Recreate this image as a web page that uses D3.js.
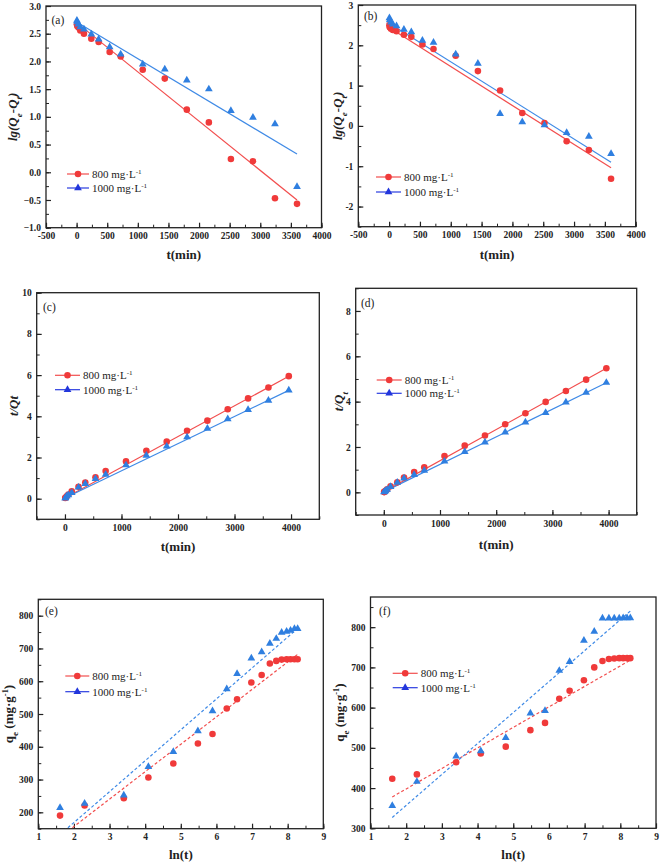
<!DOCTYPE html>
<html><head><meta charset="utf-8">
<script src="https://cdn.jsdelivr.net/npm/d3@7"></script>
<style>body{margin:0;background:#fff}svg{display:block}</style>
</head><body>
<svg id="chart" width="661" height="864"></svg>
<script>
// ---------- data ----------
const timesAB = [5,10,30,60,120,240,360,540,720,1080,1440,1800,2160,2520,2880,3240,3600];
const timesCD = [5,10,30,60,120,240,360,540,720,1080,1440,1800,2160,2520,2880,3240,3600,3960];
const lnT = [1.61,2.30,3.40,4.09,4.79,5.48,5.89,6.29,6.58,6.98,7.27,7.50,7.68,7.83,7.97,8.08,8.19,8.28];

const seriesNames = ["800 mg·L", "1000 mg·L"];

// (a) pseudo-first-order
const aRed  = [2.67,2.64,2.61,2.56,2.50,2.41,2.35,2.17,2.09,1.85,1.69,1.13,0.90,0.24,0.20,-0.47,-0.57];
const aBlue = [2.74,2.71,2.67,2.62,2.58,2.49,2.40,2.26,2.13,1.95,1.86,1.66,1.50,1.11,0.99,0.87,-0.26];
const aRedFit  = [[0,2.70],[3600,-0.50]];
const aBlueFit = [[0,2.71],[3600,0.33]];
// (b)
const bRed  = [2.50,2.45,2.41,2.38,2.35,2.26,2.21,2.02,1.91,1.74,1.36,0.88,0.32,0.07,-0.38,-0.60,-1.31];
const bBlue = [2.68,2.63,2.57,2.52,2.48,2.39,2.33,2.12,2.07,1.78,1.55,0.30,0.10,0.02,-0.17,-0.26,-0.69];
const bRedFit  = [[0,2.44],[3600,-1.04]];
const bBlueFit = [[0,2.55],[3600,-0.90]];
// (c) pseudo-second-order
const cRed  = [0.03,0.05,0.12,0.20,0.36,0.58,0.79,1.04,1.34,1.81,2.33,2.77,3.30,3.79,4.34,4.87,5.40,5.95];
const cBlue = [0.02,0.04,0.12,0.18,0.29,0.55,0.73,0.97,1.17,1.63,2.10,2.54,2.99,3.41,3.87,4.32,4.77,5.27];
const cRedFit  = [[0,0.03],[3960,5.94]];
const cBlueFit = [[0,0.03],[3960,5.26]];
// (d)
const dRed  = [0.01,0.02,0.07,0.13,0.27,0.44,0.65,0.90,1.10,1.60,2.06,2.51,3.00,3.49,3.99,4.47,4.97,5.47];
const dBlue = [0.01,0.02,0.06,0.12,0.25,0.43,0.62,0.78,0.96,1.37,1.79,2.21,2.65,3.09,3.51,3.97,4.40,4.84];
const dRedFit  = [[0,0.02],[3960,5.47]];
const dBlueFit = [[0,0.02],[3960,4.83]];
// (e) intraparticle diffusion
const eRed  = [190,221,243,306,349,410,439,517,545,596,619,654,662,666,667,667,667,667];
const eBlue = [214,227,252,339,385,448,509,576,623,670,689,715,730,749,752,755,760,760];
const eRedFit  = [[1.61,124],[8.28,682]];
const eBlueFit = [[1.61,132],[8.28,761]];
// (f)
const fRed  = [423,434,464,486,503,544,562,622,642,668,700,716,721,722,723,723,723,723];
const fBlue = [356,416,479,492,525,586,592,692,714,767,789,822,822,822,822,823,823,823];
const fRedFit  = [[1.61,378],[8.28,718]];
const fBlueFit = [[1.61,327],[8.28,840]];

// tick labels
const tickXab = [-500,0,500,1000,1500,2000,2500,3000,3500,4000];
const tickYa  = [-1.0,-0.5,0.0,0.5,1.0,1.5,2.0,2.5,3.0];
const tickYb  = [-2,-1,0,1,2,3];
const tickXcd = [0,1000,2000,3000,4000];
const tickYc  = [0,2,4,6,8,10];
const tickYd  = [0,2,4,6,8];
const tickXef = [1,2,3,4,5,6,7,8,9];
const tickYe  = [200,300,400,500,600,700,800];
const tickYf  = [300,400,500,600,700,800];

// ---------- drawing ----------
const svg = d3.select("#chart");
svg.append("rect").attr("width",661).attr("height",864).attr("fill","#fff");
const RED = "#f03a3a", RED_LINE = "#f24e4e";
const BLUE = "#2f7fe0", BLUE_LINE = "#3f8ae6";
const LEG_BLUE = "#2a3ce0", LEG_BLUE_MK = "#2236dc";
const SERIF = "Liberation Serif, Times New Roman, serif";

function rich(sel, parts, baseSize) {
  parts.forEach(p => {
    const t = sel.append("tspan").text(p[0]);
    if (p[1] === "sub") t.attr("baseline-shift","sub").attr("font-size", baseSize*0.7);
    else if (p[1] === "sup") t.attr("baseline-shift","super").attr("font-size", baseSize*0.65);
    else if (p[1] === "i") t.attr("font-style","italic");
    else if (p[1] === "isub") t.attr("font-style","italic").attr("baseline-shift","sub").attr("font-size", baseSize*0.7);
  });
}

let clipId = 0;
function panel(c) {
  const g = svg.append("g");
  const x = d3.scaleLinear().domain(c.xDomain).range([c.left, c.right]);
  const y = d3.scaleLinear().domain(c.yDomain).range([c.bottom, c.top]);
  const id = "clip" + (clipId++);
  svg.append("clipPath").attr("id", id).append("rect")
    .attr("x", c.left).attr("y", c.top).attr("width", c.right - c.left).attr("height", c.bottom - c.top);

  // minor ticks
  const minorX = d3.range(c.xDomain[0], c.xDomain[1] + 1e-9, c.xMinor);
  const minorY = d3.range(c.yDomain[0], c.yDomain[1] + 1e-9, c.yMinor);
  g.append("g").attr("transform", `translate(0,${c.bottom})`)
    .call(d3.axisBottom(x).tickValues(minorX).tickSizeInner(-3).tickSizeOuter(0).tickFormat(""))
    .call(s => s.select(".domain").remove())
    .call(s => s.selectAll("line").attr("stroke","#222").attr("stroke-width",1));
  g.append("g").attr("transform", `translate(${c.left},0)`)
    .call(d3.axisLeft(y).tickValues(minorY).tickSizeInner(-3).tickSizeOuter(0).tickFormat(""))
    .call(s => s.select(".domain").remove())
    .call(s => s.selectAll("line").attr("stroke","#222").attr("stroke-width",1));
  // major ticks
  g.append("g").attr("transform", `translate(0,${c.bottom})`)
    .call(d3.axisBottom(x).tickValues(c.xTicks).tickSizeInner(-5).tickSizeOuter(0).tickPadding(5).tickFormat(c.xFmt || (d => d)))
    .call(s => s.select(".domain").remove())
    .call(s => s.selectAll("line").attr("stroke","#222").attr("stroke-width",1.2))
    .call(s => s.selectAll("text").attr("font-family",SERIF).attr("font-weight","bold").attr("font-size",9.5).attr("fill","#222"));
  g.append("g").attr("transform", `translate(${c.left},0)`)
    .call(d3.axisLeft(y).tickValues(c.yTicks).tickSizeInner(-5).tickSizeOuter(0).tickPadding(5).tickFormat(c.yFmt || (d => d)))
    .call(s => s.select(".domain").remove())
    .call(s => s.selectAll("line").attr("stroke","#222").attr("stroke-width",1.2))
    .call(s => s.selectAll("text").attr("font-family",SERIF).attr("font-weight","bold").attr("font-size",9.5).attr("fill","#222"));

  // frame
  g.append("rect").attr("x", c.left).attr("y", c.top)
    .attr("width", c.right - c.left).attr("height", c.bottom - c.top)
    .attr("fill","none").attr("stroke","#222").attr("stroke-width",1.3);

  const plot = g.append("g").attr("clip-path", `url(#${id})`);
  const line = d3.line().x(d => x(d[0])).y(d => y(d[1]));
  const sets = [
    {vals: c.red, fit: c.redFit, color: RED, lc: RED_LINE, sym: d3.symbolCircle, size: 34},
    {vals: c.blue, fit: c.blueFit, color: BLUE, lc: BLUE_LINE, sym: d3.symbolTriangle, size: 26}
  ];
  sets.forEach(s => {
    plot.append("path").attr("d", line(s.fit)).attr("fill","none")
      .attr("stroke", s.lc).attr("stroke-width", 1.2)
      .attr("stroke-dasharray", c.dashed ? "3,2.2" : null);
  });
  sets.forEach(s => {
    plot.selectAll(null).data(s.vals.map((v,i) => [c.xs[i], v])).enter().append("path")
      .attr("d", d3.symbol().type(s.sym).size(s.size))
      .attr("transform", d => `translate(${x(d[0])},${y(d[1])})`)
      .attr("fill", s.color);
  });

  // panel label
  g.append("text").attr("x", c.lab[0]).attr("y", c.lab[1]).text(c.label)
    .attr("font-family",SERIF).attr("font-size",11.5).attr("fill","#222");

  // legend
  const L = c.legend;
  const legItems = [
    {name: seriesNames[0], lc: RED_LINE, mc: RED, sym: d3.symbolCircle, size: 34, y: L.y1},
    {name: seriesNames[1], lc: LEG_BLUE, mc: LEG_BLUE_MK, sym: d3.symbolTriangle, size: 26, y: L.y2}
  ];
  legItems.forEach(it => {
    g.append("line").attr("x1", L.x).attr("x2", L.x + L.w).attr("y1", it.y).attr("y2", it.y)
      .attr("stroke", it.lc).attr("stroke-width", 1.2);
    g.append("path").attr("d", d3.symbol().type(it.sym).size(it.size)())
      .attr("transform", `translate(${L.x + L.w/2},${it.y})`).attr("fill", it.mc);
    const t = g.append("text").attr("x", L.x + L.w + 3).attr("y", it.y + 4)
      .attr("font-family",SERIF).attr("font-size",11).attr("fill","#222");
    rich(t, [[it.name,"n"],["-1","sup"]], 11);
  });

  // axis titles
  const xt = g.append("text").attr("x", (c.left + c.right)/2 + (c.xtDx||0)).attr("y", c.xtY)
    .attr("text-anchor","middle").attr("font-family",SERIF).attr("font-weight","bold")
    .attr("font-size",13).attr("fill","#222");
  rich(xt, c.xTitle, 13);
  const yt = g.append("text").attr("transform", `translate(${c.ytX},${(c.top + c.bottom)/2}) rotate(-90)`)
    .attr("text-anchor","middle").attr("font-family",SERIF).attr("font-weight","bold")
    .attr("font-size",13).attr("fill","#222");
  rich(yt, c.yTitle, 13);
}

const fmt1 = d3.format(".1f");
const lgTitle = [["lg(","i"],["Q","i"],["e","isub"],["-","i"],["Q","i"],["t","isub"],[")","i"]];

panel({left:46, right:321.5, top:6, bottom:227.7, xDomain:[-500,4000], yDomain:[-1,3],
  xTicks:tickXab, yTicks:tickYa, yFmt:fmt1, xMinor:250, yMinor:0.25,
  xs:timesAB, red:aRed, blue:aBlue, redFit:aRedFit, blueFit:aBlueFit,
  lab:[51.5,24], label:"(a)", legend:{x:67, w:22, y1:174, y2:188},
  xTitle:[["t(min)","n"]], xtY:259, xtDx:0, yTitle:lgTitle, ytX:17});

panel({left:358.3, right:635.7, top:5, bottom:226.7, xDomain:[-500,4000], yDomain:[-2.5,3],
  xTicks:tickXab, yTicks:tickYb, xMinor:250, yMinor:0.5,
  xs:timesAB, red:bRed, blue:bBlue, redFit:bRedFit, blueFit:bBlueFit,
  lab:[364,20], label:"(b)", legend:{x:376, w:25, y1:177, y2:192},
  xTitle:[["t(min)","n"]], xtY:259, yTitle:lgTitle, ytX:342});

panel({left:36.7, right:319.3, top:292.7, bottom:519.3, xDomain:[-500,4500], yDomain:[-1,10],
  xTicks:tickXcd, yTicks:tickYc, xMinor:500, yMinor:1,
  xs:timesCD, red:cRed, blue:cBlue, redFit:cRedFit, blueFit:cBlueFit,
  lab:[43,311], label:"(c)", legend:{x:55, w:25, y1:375.3, y2:389.7},
  xTitle:[["t(min)","n"]], xtY:551, yTitle:[["t/Qt","i"]], ytX:18});

panel({left:355.7, right:636.7, top:288.3, bottom:515, xDomain:[-500,4500], yDomain:[-1,9],
  xTicks:tickXcd, yTicks:tickYd, xMinor:500, yMinor:1,
  xs:timesCD, red:dRed, blue:dBlue, redFit:dRedFit, blueFit:dBlueFit,
  lab:[361,306.5], label:"(d)", legend:{x:376.7, w:25, y1:380, y2:393.3},
  xTitle:[["t(min)","n"]], xtY:549, yTitle:[["t/Q","i"],["t","isub"]], ytX:343});

const qeTitle = [["q","n"],["e","sub"],[" (mg·g","n"],["-1","sup"],[")","n"]];
panel({left:38.3, right:323.3, top:599.3, bottom:828.7, xDomain:[1,9], yDomain:[150,850],
  xTicks:tickXef, yTicks:tickYe, xMinor:0.5, yMinor:50, dashed:true,
  xs:lnT, red:eRed, blue:eBlue, redFit:eRedFit, blueFit:eBlueFit,
  lab:[45,615], label:"(e)", legend:{x:65.3, w:24, y1:676, y2:691.7},
  xTitle:[["ln(t)","n"]], xtY:859, yTitle:qeTitle, ytX:13});

panel({left:370.5, right:656, top:597, bottom:828.3, xDomain:[1,9], yDomain:[300,875],
  xTicks:tickXef, yTicks:tickYf, xMinor:0.5, yMinor:50, dashed:true,
  xs:lnT, red:fRed, blue:fBlue, redFit:fRedFit, blueFit:fBlueFit,
  lab:[379,615], label:"(f)", legend:{x:392.7, w:25, y1:673.3, y2:687.7},
  xTitle:[["ln(t)","n"]], xtY:859, yTitle:qeTitle, ytX:344});
</script>
</body></html>
